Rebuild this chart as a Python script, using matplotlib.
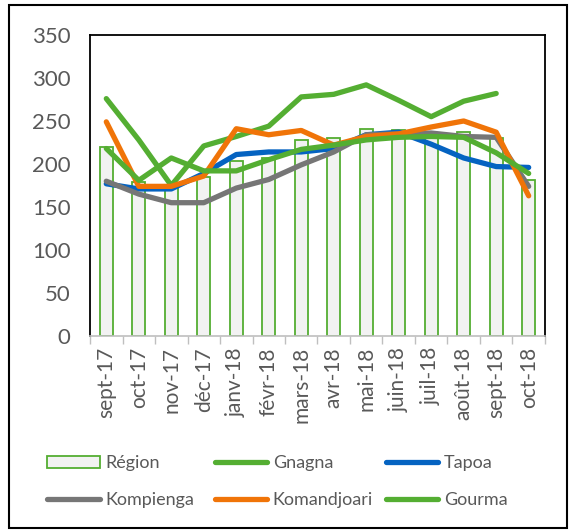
import matplotlib.pyplot as plt
from matplotlib.patches import Rectangle
import numpy as np

plt.rcParams['font.family'] = ['Lato', 'DejaVu Sans']

# mois (axe des x)
mois = ['sept-17', 'oct-17', 'nov-17', 'déc-17', 'janv-18', 'févr-18', 'mars-18',
        'avr-18', 'mai-18', 'juin-18', 'juil-18', 'août-18', 'sept-18', 'oct-18']

# valeurs
region = [220, 179, 176, 185, 204, 207, 228, 230, 241, 239, 234, 237, 230, 181]
gnagna = [276, 228, 175, 221, 232, 244, 278, 281, 292, 274, 255, 273, 282, None]
tapoa = [177, 171, 171, 189, 211, 214, 214, 218, 234, 237, 223, 207, 197, 196]
kompienga = [180, 165, 155, 155, 172, 182, 199, 214, 234, 235, 236, 232, 231, 174]
komandjoari = [249, 174, 174, 186, 241, 234, 239, 222, 232, 235, 243, 250, 237, 163]
gourma = [218, 181, 207, 192, 192, 205, 217, 222, 228, 231, 232, 231, 213, 189]

vert = '#54AE32'
bleu = '#0563C1'
gris = '#767676'
orange = '#F07408'
txt = '#595959'

fig = plt.figure(figsize=(5.7, 5.3), dpi=100)
ax = fig.add_axes([0.158, 0.366, 0.798, 0.568])

x = np.arange(len(mois))
bars = ax.bar(x, region, width=0.4, color='#F2F2F2', edgecolor=vert, linewidth=1.3, label='Région', zorder=2)

def serie(vals):
    return np.array([np.nan if v is None else v for v in vals], dtype=float)

lw = 3.8
l1, = ax.plot(x, serie(gnagna), color=vert, lw=lw, label='Gnagna', zorder=3, solid_capstyle='round')
l2, = ax.plot(x, serie(tapoa), color=bleu, lw=lw, label='Tapoa', zorder=3, solid_capstyle='round')
l3, = ax.plot(x, serie(kompienga), color=gris, lw=lw, label='Kompienga', zorder=3, solid_capstyle='round')
l4, = ax.plot(x, serie(komandjoari), color=orange, lw=lw, label='Komandjoari', zorder=3, solid_capstyle='round')
l5, = ax.plot(x, serie(gourma), color=vert, lw=lw, label='Gourma', zorder=3, solid_capstyle='round')

ax.set_xlim(-0.5, len(mois) - 0.5)
ax.set_ylim(0, 350)
ax.set_yticks(range(0, 351, 50))
ax.tick_params(axis='y', length=0, labelsize=16, labelcolor=txt, pad=14)
ax.set_xticks(x)
ax.set_xticklabels(mois, rotation=90, fontsize=15, color=txt)
ax.tick_params(axis='x', length=0, pad=8)
ax.set_xticks(np.arange(-0.5, len(mois), 1), minor=True)
ax.tick_params(axis='x', which='minor', length=6, color='#BFBFBF', width=1)

for s in ['top', 'left', 'right']:
    ax.spines[s].set_color('black')
    ax.spines[s].set_linewidth(1.3)
ax.spines['bottom'].set_color('#BFBFBF')
ax.spines['bottom'].set_linewidth(1.2)

# legende : trois colonnes de largeur egale
colonnes = [[bars, l3], [l1, l4], [l2, l5]]
xs = [0.083, 0.377, 0.677]
for hs, x0 in zip(colonnes, xs):
    leg = fig.legend(hs, [h.get_label() for h in hs], loc='upper left',
                     bbox_to_anchor=(x0, 0.141), frameon=False, fontsize=13,
                     handlelength=2.9, handletextpad=0.3, labelspacing=1.17,
                     borderaxespad=0, borderpad=0)
    for t in leg.get_texts():
        t.set_color(txt)

# cadre autour du graphique
fig.patches.append(Rectangle((0.016, 0.004), 0.978, 0.987, transform=fig.transFigure,
                             fill=False, edgecolor='black', linewidth=1.5))

fig.savefig('out.png', dpi=100)
